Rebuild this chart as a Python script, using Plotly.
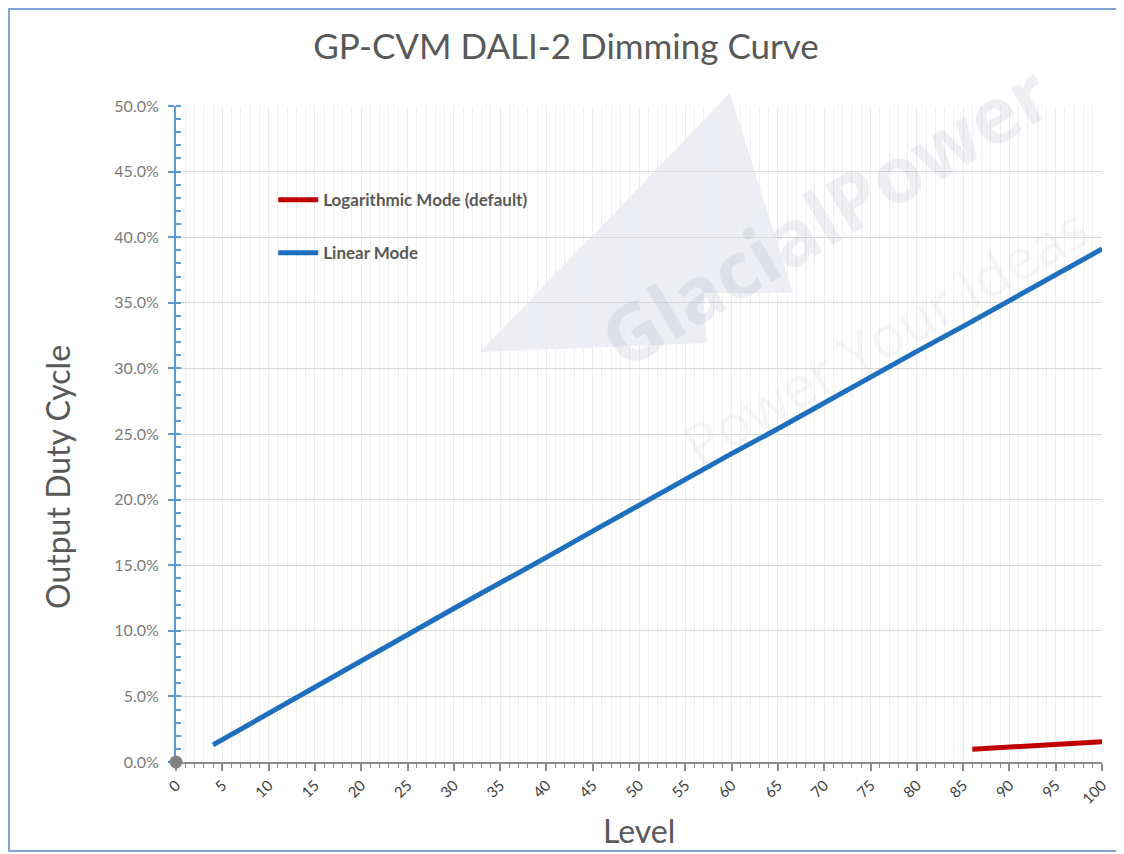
import plotly.graph_objects as go

# ---- data ----
linear_level = [4, 5, 10, 15, 20, 25, 30, 35, 40, 45, 50, 55, 60, 65, 70, 75, 80, 85, 90, 95, 100]
linear_duty = [1.3, 1.7, 3.6, 5.6, 7.6, 9.7, 11.7, 13.6, 15.6, 17.6, 19.6, 21.6, 23.5, 25.4,
               27.4, 29.3, 31.3, 33.2, 35.2, 37.1, 39.1]
log_level = [86, 88, 90, 92, 95, 98, 100]
log_duty = [0.97, 1.05, 1.12, 1.2, 1.31, 1.45, 1.55]
origin_level = [0]
origin_duty = [0]

x_ticks = list(range(0, 101, 5))
y_ticks = [0, 5, 10, 15, 20, 25, 30, 35, 40, 45, 50]

TEXT_GRAY = "#595959"
AXIS_BLUE = "#5b9bd5"
FONT = "Lato, Open Sans, sans-serif"

# figure is placed by the browser at an 8px body margin
OFF = 8
W, H = 1124 - OFF, 854 - OFF
# plot area in page pixels
PL, PR, PT, PB = 176, 1102, 106, 762


def px(x):
    return (x - PL) / (PR - PL)


def py(y):
    return (PB - y) / (PB - PT)


fig = go.Figure()

fig.add_trace(go.Scatter(
    x=log_level, y=log_duty, mode="lines", name="Logarithmic Mode (default)",
    line=dict(color="#c00000", width=5), legendgroup="log", cliponaxis=False))
fig.add_trace(go.Scatter(
    x=linear_level, y=linear_duty, mode="lines", name="Linear Mode",
    line=dict(color="#1f6fbf", width=5), legendgroup="lin", cliponaxis=False))
fig.add_trace(go.Scatter(
    x=origin_level, y=origin_duty, mode="markers", showlegend=False,
    marker=dict(color="#808080", size=13), cliponaxis=False, hoverinfo="skip"))

fig.update_layout(
    width=W, height=H,
    margin=dict(l=PL - OFF, r=W - (PR - OFF), t=PT - OFF, b=H - (PB - OFF)),
    paper_bgcolor="white", plot_bgcolor="white",
    font=dict(family=FONT, color=TEXT_GRAY),
    title=dict(text="GP-CVM DALI-2 Dimming Curve", x=0.5, xanchor="center",
               y=1 - (47 - OFF) / H, yanchor="middle",
               font=dict(size=35, color=TEXT_GRAY, family=FONT)),
    showlegend=True,
    legend=dict(x=0.105, y=0.884, xanchor="left", yanchor="top",
                bgcolor="rgba(0,0,0,0)", traceorder="grouped", tracegroupgap=28,
                font=dict(size=17, color=TEXT_GRAY, family=FONT, weight="bold"),
                itemwidth=40),
)

fig.update_xaxes(
    range=[0, 100], tickmode="array", tickvals=x_ticks,
    ticktext=[str(v) for v in x_ticks], tickangle=-45,
    showline=True, linecolor="#8c8c8c", linewidth=1.5,
    ticks="outside", ticklen=7, tickwidth=1.5, tickcolor="#8c8c8c",
    tickfont=dict(size=15, color="#404040", family=FONT),
    showgrid=True, gridcolor="#ececec", gridwidth=1,
    minor=dict(dtick=1, showgrid=True, gridcolor="#efefef", gridwidth=1,
               ticks="outside", ticklen=4, tickwidth=1.2, tickcolor="#8c8c8c"),
    zeroline=False, layer="below traces",
)

fig.update_yaxes(
    range=[0, 50], tickmode="array", tickvals=y_ticks,
    ticktext=[f"{v:.1f}%" for v in y_ticks],
    showline=True, linecolor=AXIS_BLUE, linewidth=2,
    ticks="outside", ticklen=6, tickwidth=2, tickcolor=AXIS_BLUE,
    tickfont=dict(size=16, color="#7a7a7a", family=FONT),
    ticklabelstandoff=6,
    showgrid=True, gridcolor="#d9d9d9", gridwidth=1.2,
    minor=dict(dtick=1, showgrid=False, ticks="inside", ticklen=5,
               tickwidth=1.5, tickcolor=AXIS_BLUE),
    zeroline=False, layer="below traces",
)

# axis titles
fig.add_annotation(text="Output Duty Cycle", xref="paper", yref="paper",
                   x=px(57), y=py(477), xanchor="center", yanchor="middle",
                   showarrow=False, textangle=-90,
                   font=dict(size=32, color=TEXT_GRAY, family=FONT))
fig.add_annotation(text="Level", xref="paper", yref="paper",
                   x=px(639), y=py(830), xanchor="center", yanchor="middle",
                   showarrow=False,
                   font=dict(size=32, color=TEXT_GRAY, family=FONT))

# watermark triangle
tri = [(480, 352), (730, 93), (793, 293), (703, 293), (707, 343)]
path = "M " + " L ".join(f"{px(a):.4f},{py(b):.4f}" for a, b in tri) + " Z"
fig.add_shape(type="path", path=path, xref="paper", yref="paper",
              fillcolor="rgba(205,210,225,0.38)", line=dict(width=0), layer="below")

# outer frame
fig.add_shape(type="rect", xref="paper", yref="paper",
              x0=px(9), x1=px(1160), y0=py(851), y1=py(9),
              line=dict(color="#7fa7d6", width=2), fillcolor="rgba(0,0,0,0)")

# watermark texts
fig.add_annotation(text="<b>GlacialPower</b>", xref="paper", yref="paper",
                   x=px(825), y=py(215), xanchor="center", yanchor="middle",
                   showarrow=False, textangle=-31,
                   font=dict(size=78, color="rgba(150,158,180,0.16)", family="Open Sans, sans-serif"))
fig.add_annotation(text="Power Your Ideas", xref="paper", yref="paper",
                   x=px(885), y=py(335), xanchor="center", yanchor="middle",
                   showarrow=False, textangle=-30,
                   font=dict(size=56, color="rgba(170,175,190,0.13)", family="Open Sans, sans-serif"))

fig.write_html("out.html")
